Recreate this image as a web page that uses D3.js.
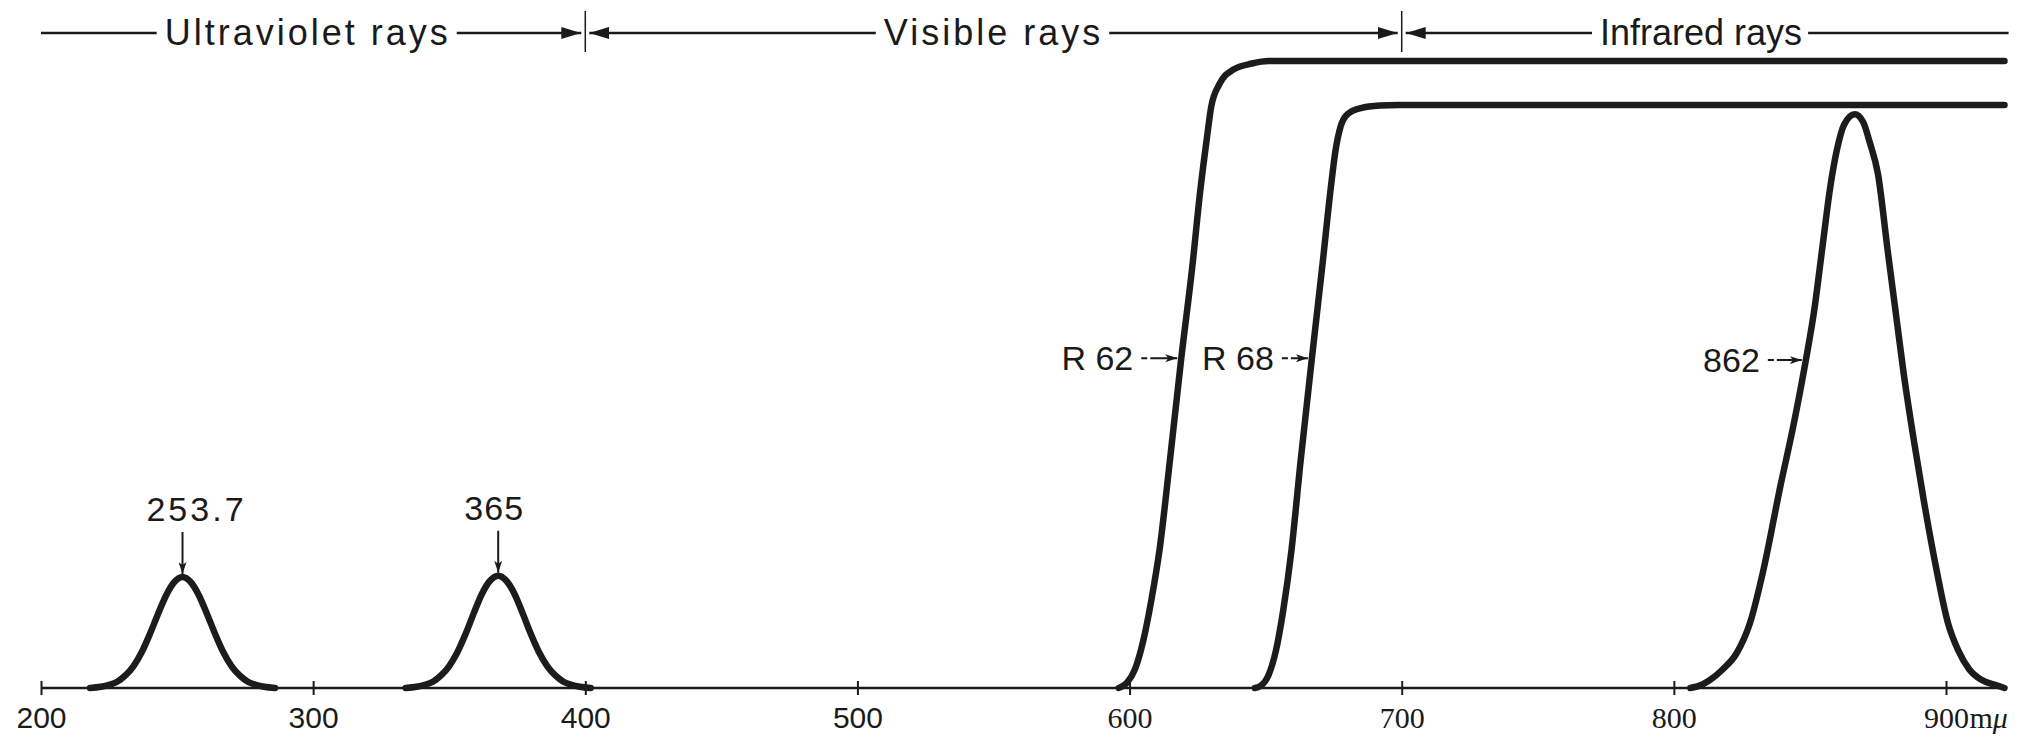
<!DOCTYPE html>
<html lang="en">
<head>
    <meta charset="UTF-8">
    <title>Filter transmission</title>
    <script src="https://d3js.org/d3.v7.min.js"></script>
    <style type="text/css">
        body {
            margin: 0;
            background-color: #fff;
        }

        .curve {
            fill: none;
            stroke: #1c1c1c;
            stroke-width: 6.5px;
            stroke-linejoin: round;
            stroke-linecap: round;
        }

        .band text {
            font-family: "Liberation Sans", Arial, sans-serif;
            font-size: 36px;
            fill: #1a1a1a;
        }

        .band line {
            stroke: #1a1a1a;
            stroke-width: 2.5px;
        }

        .axis text {
            font-size: 30px;
            fill: #1a1a1a;
        }

        .note {
            font-family: "Liberation Sans", Arial, sans-serif;
            font-size: 34px;
            fill: #1a1a1a;
        }

        .pointer {
            stroke: #1a1a1a;
            stroke-width: 2px;
        }
    </style>
</head>
<body>
    <script type="text/javascript">
        //CONSTANTS & GLOBALS
        const width = 2026;
        const height = 738;

        //DATA - wavelength (m\u03bc) and relative transmission (% of the R62 plateau)
        const tickValues = [200, 300, 400, 500, 600, 700, 800, 900];
        const axisEnd = 921.5;

        const bandLabels = ["Ultraviolet rays", "Visible rays", "Infrared rays"];
        const bandEdges = [200, 400, 700, 923];
        const bandLabelAt = [298, 550, 810];
        const bandSpacing = [3, 3, 0];

        const peak254 = [[218, 0], [222, 0.2], [225, 0.5], [228, 1], [231, 2], [234, 3.5], [237, 5.7],
            [240, 8.6], [243, 11.8], [246, 14.8], [249, 16.9], [252, 17.7], [255, 16.9], [258, 14.8],
            [261, 11.8], [264, 8.6], [267, 5.7], [270, 3.5], [273, 2], [276, 1], [279, 0.5], [282, 0.2], [286, 0]];

        const peak365 = [[334, 0], [338, 0.2], [341, 0.5], [344, 1], [347, 2], [350, 3.5], [353, 5.7],
            [356, 8.6], [359, 11.9], [362, 15], [365, 17.1], [368, 17.9], [371, 17.1], [374, 15],
            [377, 11.9], [380, 8.6], [383, 5.7], [386, 3.5], [389, 2], [392, 1], [395, 0.5], [398, 0.2], [402, 0]];

        const r62 = [[596, 0], [599, 0.8], [602, 3], [605, 7.5], [608, 14], [611, 22], [615, 37],
            [619, 52.6], [623, 67], [626, 79.4], [628.5, 88], [630, 92.7], [633, 96.3], [638, 98.6],
            [645, 99.6], [651, 100], [921.5, 100]];

        const r68 = [[646, 0], [648, 0.3], [651, 2], [653.8, 6], [656.5, 12.5], [659.5, 22], [662.8, 36],
            [667, 52.6], [671, 68], [674, 80], [675.7, 85.8], [677.5, 89.5], [680, 91.5], [685, 92.5],
            [692, 92.9], [699, 93], [921.5, 93]];

        const f862 = [[806, 0], [809, 0.3], [813, 1.2], [818, 3], [823, 5.5], [828, 10.4], [833, 19],
            [839, 31.9], [844, 42], [848.5, 52.3], [851.5, 60], [854.5, 70], [857.5, 80], [860, 86],
            [862.5, 89.8], [866.5, 91.5], [869.5, 90.3], [872, 87], [875, 82], [878.5, 70], [881.5, 60],
            [884.5, 50], [888, 40], [891.8, 30], [896, 20], [900.7, 10.4], [904.5, 6], [908.5, 3],
            [913, 1.3], [918, 0.5], [921.5, 0]];

        //labels pointing down at the mercury lines: [text, wavelength, value]
        const lineLabels = [["253.7", 252, 17.7], ["365", 368, 17.9]];
        //labels pointing right at the filter curves: [text, wavelength, value]
        const curveLabels = [["R 62", 619, 52.6], ["R 68", 667, 52.6], ["862", 848.5, 52.3]];

        //SCALES
        const xScale = d3.scaleLinear()
            .domain([200, 900])
            .range([41, 1946]);

        const yScale = d3.scaleLinear()
            .domain([0, 100])
            .range([688, 61]);

        //CREATE SVG
        const svg = d3.select("body")
            .append("svg")
            .attr("width", width)
            .attr("height", height);

        //ARROWHEAD MARKERS
        const defs = svg.append("defs");
        defs.append("marker")
            .attr("id", "head")
            .attr("viewBox", "0 0 12 8")
            .attr("refX", 12)
            .attr("refY", 4)
            .attr("markerWidth", 12)
            .attr("markerHeight", 8)
            .attr("markerUnits", "userSpaceOnUse")
            .attr("orient", "auto")
            .append("path")
            .attr("d", "M0,0 L12,4 L0,8 L3,4 Z")
            .attr("fill", "#1a1a1a");
        defs.append("marker")
            .attr("id", "headBand")
            .attr("viewBox", "0 0 20 12")
            .attr("refX", 20)
            .attr("refY", 6)
            .attr("markerWidth", 20)
            .attr("markerHeight", 12)
            .attr("markerUnits", "userSpaceOnUse")
            .attr("orient", "auto")
            .append("path")
            .attr("d", "M0,0 L20,6 L0,12 Z")
            .attr("fill", "#1a1a1a");
        defs.append("marker")
            .attr("id", "headRev")
            .attr("viewBox", "0 0 20 12")
            .attr("refX", 0)
            .attr("refY", 6)
            .attr("markerWidth", 20)
            .attr("markerHeight", 12)
            .attr("markerUnits", "userSpaceOnUse")
            .attr("orient", "auto")
            .append("path")
            .attr("d", "M0,6 L20,0 L20,12 Z")
            .attr("fill", "#1a1a1a");

        //BASELINE
        svg.append("line")
            .attr("x1", xScale(200))
            .attr("x2", xScale(axisEnd))
            .attr("y1", yScale(0))
            .attr("y2", yScale(0))
            .attr("stroke", "#1a1a1a")
            .attr("stroke-width", 2.5);

        //X-AXIS
        const xAxis = d3.axisBottom(xScale)
            .tickValues(tickValues)
            .tickSize(7)
            .tickPadding(12)
            .tickFormat(d => d);

        const axisG = svg.append("g")
            .attr("class", "axis")
            .attr("transform", "translate(0," + yScale(0) + ")")
            .call(xAxis);

        axisG.select(".domain").remove();
        axisG.selectAll(".tick line")
            .attr("y1", -7)
            .attr("y2", 7)
            .attr("stroke", "#1a1a1a")
            .attr("stroke-width", 2);
        axisG.selectAll(".tick text")
            .attr("font-family", d => d >= 600 ? "'Liberation Serif', serif" : "'Liberation Sans', sans-serif");

        //unit after 900
        axisG.selectAll(".tick")
            .filter(d => d === 900)
            .append("text")
            .attr("x", 23)
            .attr("y", 19)
            .attr("dy", "0.71em")
            .attr("text-anchor", "start")
            .attr("font-family", "'Liberation Serif', serif")
            .attr("fill", "#1a1a1a")
            .text("m")
            .append("tspan")
            .attr("font-style", "italic")
            .text("\u03bc");

        //CURVES
        const line = d3.line()
            .curve(d3.curveMonotoneX)
            .x(d => xScale(d[0]))
            .y(d => yScale(d[1]));

        [peak254, peak365, r62, r68, f862].forEach(series => {
            svg.append("path")
                .attr("class", "curve")
                .attr("d", line(series));
        });

        //BAND HEADER
        const bandY = 33;
        const band = svg.append("g").attr("class", "band");

        bandLabels.forEach((label, i) => {
            const t = band.append("text")
                .attr("x", xScale(bandLabelAt[i]))
                .attr("y", bandY + 12)
                .attr("text-anchor", "middle")
                .style("letter-spacing", bandSpacing[i] + "px")
                .text(label);
            const box = t.node().getBBox();

            const left = xScale(bandEdges[i]) + (i > 0 ? 4 : 0);
            const right = xScale(bandEdges[i + 1]) - (i < bandLabels.length - 1 ? 4 : 0);

            band.append("line")
                .attr("x1", left).attr("x2", box.x - 8)
                .attr("y1", bandY).attr("y2", bandY)
                .attr("marker-start", i > 0 ? "url(#headRev)" : null);
            band.append("line")
                .attr("x1", box.x + box.width + 6).attr("x2", right)
                .attr("y1", bandY).attr("y2", bandY)
                .attr("marker-end", i < bandLabels.length - 1 ? "url(#headBand)" : null);
        });

        //boundary ticks between bands
        bandEdges.slice(1, -1).forEach(edge => {
            band.append("line")
                .attr("x1", xScale(edge)).attr("x2", xScale(edge))
                .attr("y1", 11).attr("y2", 52)
                .style("stroke-width", "1.5px");
        });

        //LINE LABELS (arrow down to the peak)
        const labelDx = [14, -4];
        const labelSpacing = [3, 1];
        lineLabels.forEach((d, i) => {
            const x = xScale(d[1]);
            const tip = yScale(d[2]) - 3;
            svg.append("line")
                .attr("class", "pointer")
                .attr("x1", x).attr("x2", x)
                .attr("y1", tip - 42).attr("y2", tip)
                .attr("marker-end", "url(#head)");
            svg.append("text")
                .attr("class", "note")
                .attr("x", x + labelDx[i])
                .attr("y", tip - 53)
                .attr("text-anchor", "middle")
                .style("letter-spacing", labelSpacing[i] + "px")
                .text(d[0]);
        });

        //CURVE LABELS (arrow right to the curve)
        const arrowLen = [36, 26, 34];
        curveLabels.forEach((d, i) => {
            const x = xScale(d[1]) - 4;
            const y = yScale(d[2]);
            svg.append("line")
                .attr("class", "pointer")
                .attr("x1", x - arrowLen[i]).attr("x2", x)
                .attr("y1", y).attr("y2", y)
                .attr("stroke-dasharray", "6 3 40")
                .attr("marker-end", "url(#head)");
            svg.append("text")
                .attr("class", "note")
                .attr("x", x - arrowLen[i] - 8)
                .attr("y", y + 12)
                .attr("text-anchor", "end")
                .text(d[0]);
        });
    </script>
</body>
</html>
